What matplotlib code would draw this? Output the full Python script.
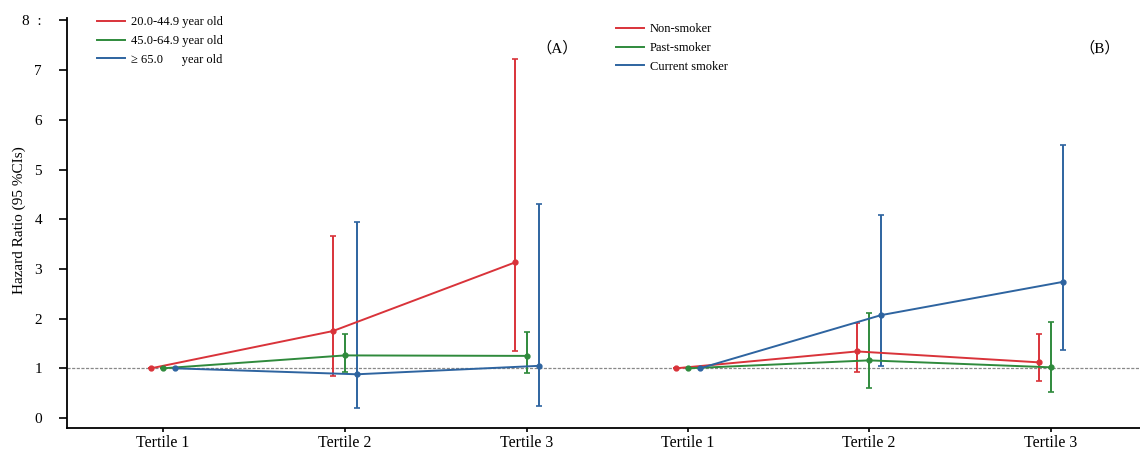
import numpy as np
import matplotlib
matplotlib.use("Agg")
import matplotlib.pyplot as plt
from matplotlib.lines import Line2D

plt.rcParams['font.family'] = ['Liberation Serif', 'Noto Sans CJK SC', 'DejaVu Serif']

tertiles = ["Tertile 1", "Tertile 2", "Tertile 3"]

# panel A: age groups
age_labels = ["20.0-44.9 year old", "45.0-64.9 year old", "\u2265 65.0      year old"]
age_hr = [[1.0, 1.75, 3.13],
          [1.0, 1.26, 1.25],
          [1.0, 0.88, 1.05]]
age_lo = [[1.0, 0.85, 1.34],
          [1.0, 0.92, 0.90],
          [1.0, 0.20, 0.24]]
age_hi = [[1.0, 3.67, 7.22],
          [1.0, 1.70, 1.73],
          [1.0, 3.95, 4.31]]

# panel B: smoking status
smk_labels = ["Non-smoker", "Past-smoker", "Current smoker"]
smk_hr = [[1.0, 1.34, 1.12],
          [1.0, 1.16, 1.02],
          [1.0, 2.07, 2.74]]
smk_lo = [[1.0, 0.92, 0.75],
          [1.0, 0.61, 0.53],
          [1.0, 1.05, 1.36]]
smk_hi = [[1.0, 1.91, 1.69],
          [1.0, 2.12, 1.93],
          [1.0, 4.09, 5.50]]

colours = ['#d9333a', '#2f8a3c', '#2e64a0']

fig = plt.figure(figsize=(11.4, 4.5), dpi=100)
ax = fig.add_axes([0.0588, 0.049, 0.941, 0.911])

posA = np.array([1.0, 2.0, 3.0])
posB = np.array([3.885, 4.88, 5.88])
offsets = [-0.066, 0.0, 0.066]

def draw_panel(pos, hr, lo, hi):
    for i in range(3):
        x = pos + offsets[i]
        y = np.array(hr[i])
        err = [y - np.array(lo[i]), np.array(hi[i]) - y]
        ax.errorbar(x, y, yerr=err, color=colours[i], lw=1.4, marker='o', ms=3.5,
                    capsize=2.2, capthick=1.2, elinewidth=1.4, zorder=3)

draw_panel(posA, age_hr, age_lo, age_hi)
draw_panel(posB, smk_hr, smk_lo, smk_hi)

ax.axhline(1.0, color='#888888', ls='--', lw=0.9, dashes=(2.5, 1.2), zorder=1)

ax.set_xlim(0.473, 6.368)
ax.set_ylim(-0.2, 8.05)
ax.set_xticks(list(posA) + list(posB))
ax.set_xticklabels(tertiles + tertiles, fontsize=11.5)
ax.set_yticks(range(9))
ax.set_yticklabels([str(v) for v in range(8)] + ["8  :"], fontsize=11)
ax.tick_params(axis='y', length=6, width=1.2, pad=12)
ax.tick_params(axis='x', length=3, width=1.2, pad=2)
ax.spines['top'].set_visible(False)
ax.spines['right'].set_visible(False)
ax.spines['left'].set_linewidth(1.3)
ax.spines['bottom'].set_linewidth(1.3)
ax.set_ylabel("Hazard Ratio (95 %CIs)", fontsize=11)
ax.yaxis.set_label_coords(-0.038, 0.507)

ax.text(0.457, 0.915, "\uff08A\uff09", transform=ax.transAxes, fontsize=11, ha='center')
ax.text(0.963, 0.915, "\uff08B\uff09", transform=ax.transAxes, fontsize=11, ha='center')

leg_kw = dict(loc='upper left', frameon=False, fontsize=9, handlelength=2.25,
              labelspacing=0.55, handletextpad=0.45, borderpad=0, borderaxespad=0,
              bbox_transform=fig.transFigure)
handlesA = [Line2D([0], [0], color=c, lw=1.4) for c in colours]
legA = ax.legend(handlesA, age_labels, bbox_to_anchor=(97 / 1140, 1 - 16 / 450), **leg_kw)
ax.add_artist(legA)
handlesB = [Line2D([0], [0], color=c, lw=1.4) for c in colours]
ax.legend(handlesB, smk_labels, bbox_to_anchor=(616 / 1140, 1 - 23 / 450), **leg_kw)

fig.savefig("out.png", dpi=100)
